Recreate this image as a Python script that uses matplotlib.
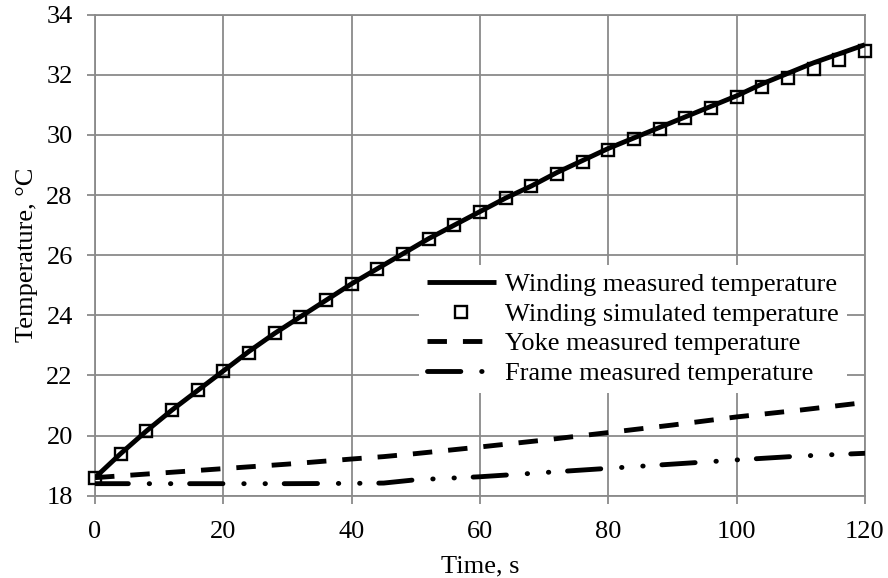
import matplotlib
matplotlib.use("Agg")
import matplotlib.pyplot as plt

plt.rcParams["font.family"] = ["Liberation Serif", "DejaVu Serif"]
plt.rcParams["lines.scale_dashes"] = False

# Winding temperature (measured and simulated), sampled every 4 s
t_wind = [0, 4, 8, 12, 16, 20, 24, 28, 32, 36, 40, 44, 48, 52, 56, 60,
          64, 68, 72, 76, 80, 84, 88, 92, 96, 100, 104, 108, 112, 116, 120]
wind_sim = [18.6, 19.4, 20.15, 20.85, 21.5, 22.15, 22.75, 23.4, 23.95, 24.5,
            25.05, 25.55, 26.05, 26.55, 27.0, 27.45, 27.9, 28.3, 28.7, 29.1,
            29.5, 29.85, 30.2, 30.55, 30.9, 31.25, 31.6, 31.9, 32.2, 32.5, 32.8]
wind_meas = [18.6, 19.4, 20.15, 20.85, 21.5, 22.15, 22.8, 23.4, 23.95, 24.5,
             25.05, 25.55, 26.05, 26.55, 27.0, 27.45, 27.9, 28.3, 28.75, 29.15,
             29.55, 29.9, 30.25, 30.6, 30.95, 31.3, 31.7, 32.05, 32.4, 32.7, 33.0]

# Yoke and frame measured temperatures
t_iron = [0, 10, 20, 30, 40, 45, 50, 60, 70, 80, 90, 100, 110, 120]
yoke_meas = [18.6, 18.75, 18.9, 19.05, 19.22, 19.3, 19.4, 19.62, 19.85,
             20.1, 20.35, 20.62, 20.85, 21.1]
frame_meas = [18.4, 18.4, 18.4, 18.4, 18.41, 18.42, 18.53, 18.63, 18.77,
              18.91, 19.05, 19.19, 19.32, 19.41]

x_ticks = [0, 20, 40, 60, 80, 100, 120]
y_ticks = [18, 20, 22, 24, 26, 28, 30, 32, 34]

fig = plt.figure(figsize=(8.88, 5.78), dpi=100)
ax = fig.add_axes([0.107, 0.1424, 0.867, 0.8322])

grid_c = "#8a8a8a"
lw = 3.5
fs = 19

ax.plot(t_wind, wind_meas, color="black", lw=lw, solid_capstyle="butt",
        label="Winding measured temperature", zorder=4)
ax.plot(t_wind, wind_sim, linestyle="none", marker="s", ms=9, mfc="none",
        mec="black", mew=1.7, clip_on=False,
        label="Winding simulated temperature", zorder=3)
ax.plot(t_iron, yoke_meas, color="black", lw=lw, dash_capstyle="butt",
        dashes=(14, 11.5), label="Yoke measured temperature", zorder=4)
ax.plot(t_iron, frame_meas, color="black", lw=lw, dash_capstyle="round",
        dashes=(24.0, 15.0, 0.3, 15.0, 0.3, 13.5),
        label="Frame measured temperature", zorder=4)

ax.set_xlim(0, 120)
ax.set_ylim(18, 34)
ax.set_xticks(x_ticks)
ax.set_yticks(y_ticks)
ax.grid(True, color=grid_c, lw=1.3)
ax.set_axisbelow(True)
for s in ax.spines.values():
    s.set_color(grid_c)
    s.set_linewidth(1.3)
ax.tick_params(axis="both", direction="out", length=6, width=1.3,
               color=grid_c, labelsize=fs, pad=10)
ax.tick_params(axis="x", pad=12)

ax.set_xlabel("Time, s", fontsize=fs, labelpad=9)
ax.set_ylabel("Temperature, \u00b0C", fontsize=fs, labelpad=6)

leg = ax.legend(loc="upper left", bbox_to_anchor=(0.421, 0.4796),
                fontsize=fs, frameon=True, fancybox=False, framealpha=1,
                facecolor="white", edgecolor="none", handlelength=2.6,
                handletextpad=0.35, labelspacing=0.23, borderpad=0.3,
                borderaxespad=0)

fig.savefig("out.png", dpi=100)
